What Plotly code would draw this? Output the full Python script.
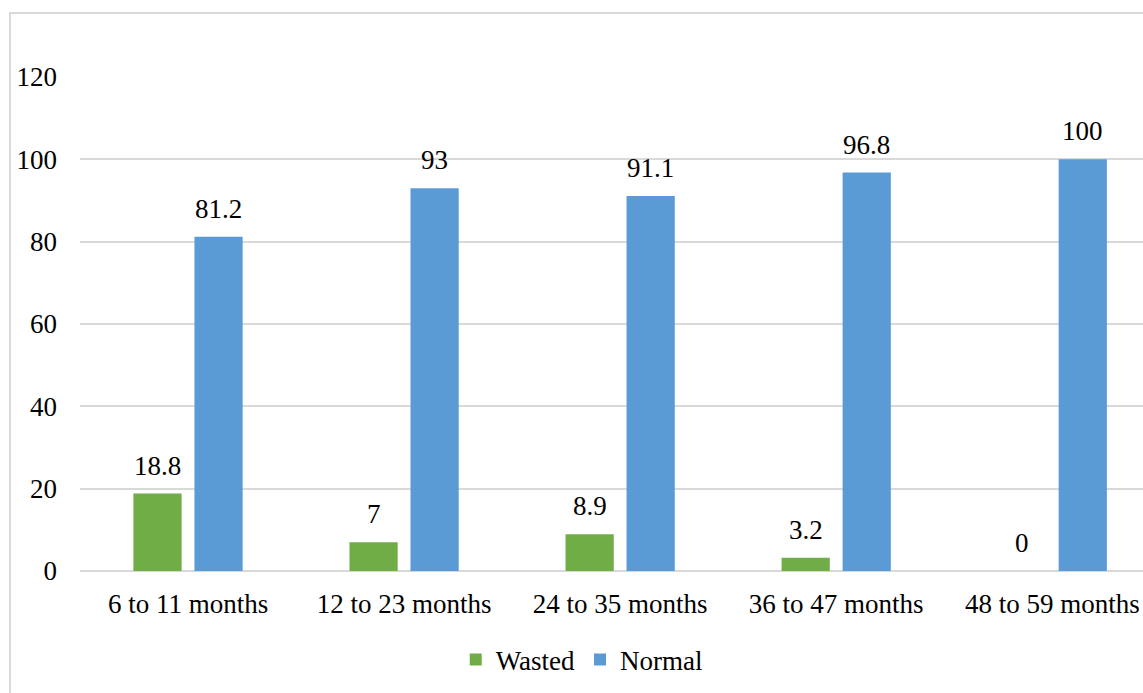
import plotly.graph_objects as go

categories = ["6 to 11 months", "12 to 23 months", "24 to 35 months", "36 to 47 months", "48 to 59 months"]
wasted = [18.8, 7, 8.9, 3.2, 0]
normal = [81.2, 93, 91.1, 96.8, 100]
wasted_labels = ["18.8", "7", "8.9", "3.2", "0"]
normal_labels = ["81.2", "93", "91.1", "96.8", "100"]
y_ticks = [0, 20, 40, 60, 80, 100, 120]

FONT = "Liberation Serif, Times New Roman, serif"
GREEN = "#70AD47"
BLUE = "#5B9BD5"
GRID = "#D9D9D9"
FS = 27

fig = go.Figure()
fig.add_trace(go.Bar(x=categories, y=wasted, name="Wasted", marker=dict(color=GREEN, line=dict(width=0))))
fig.add_trace(go.Bar(x=categories, y=normal, name="Normal", marker=dict(color=BLUE, line=dict(width=0))))

# data labels above each bar
for series, labels, shift in ((wasted, wasted_labels, -30.5), (normal, normal_labels, 30.5)):
    for c, v, t in zip(categories, series, labels):
        fig.add_annotation(x=c, y=v, text=t, showarrow=False, xanchor="center", yanchor="bottom",
                           xshift=shift, yshift=11, font=dict(family=FONT, size=FS, color="#000000"))

fig.update_layout(
    width=1143, height=693,
    margin=dict(l=80, r=0, t=77, b=122),
    paper_bgcolor="white", plot_bgcolor="white",
    barmode="group", bargap=0.435, bargroupgap=0.21,
    font=dict(family=FONT, size=FS, color="#000000"),
    showlegend=True,
    legend=dict(orientation="h", x=0.472, xanchor="center", y=-0.18, yanchor="middle",
                font=dict(family=FONT, size=FS), itemwidth=30, tracegroupgap=0),
    xaxis=dict(type="category", range=[-0.5, 4.42], showgrid=False, showline=False,
               ticks="", tickfont=dict(family=FONT, size=FS), ticklabelstandoff=14),
    yaxis=dict(range=[0, 120], tickvals=y_ticks, showgrid=True, gridcolor=GRID, gridwidth=1.5,
               zeroline=True, zerolinecolor=GRID, zerolinewidth=1.5, showline=False,
               ticks="", tickfont=dict(family=FONT, size=FS), ticklabelstandoff=22),
)

fig.add_shape(type="rect", xref="paper", yref="paper",
              x0=(10 - 80) / 1063, x1=1.2, y0=-0.5, y1=(571 - 13) / 494,
              line=dict(color=GRID, width=2), fillcolor="rgba(0,0,0,0)", layer="below")

fig.write_html("out.html", config={"displayModeBar": False},
               post_script="document.body.style.margin='0';document.body.style.overflow='hidden';")
